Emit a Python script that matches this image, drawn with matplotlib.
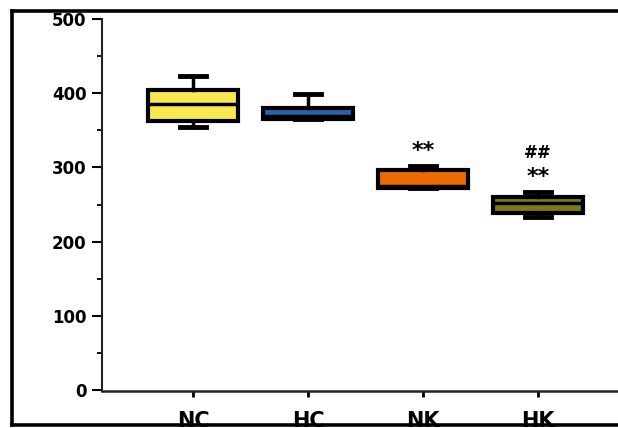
import matplotlib
matplotlib.use("Agg")
import matplotlib.pyplot as plt
from matplotlib.lines import Line2D

categories = ["NC", "HC", "NK", "HK"]
whislo = [355, 365, 272, 233]
q1 = [362, 366, 273, 239]
med = [386, 370, 275, 252]
q3 = [405, 380, 297, 260]
whishi = [423, 399, 302, 267]
colors = ["#FAE84F", "#2A63AC", "#EC6A00", "#7C7A18"]
annotations = [("NK", "**", 0), ("HK", "**", 0), ("HK", "##", 1)]

plt.rcParams['font.family'] = ['DejaVu Sans']
plt.rcParams['font.weight'] = 'bold'

fig = plt.figure(figsize=(6.18, 4.28), dpi=100)
ax = fig.add_axes([0.165, 0.0853, 0.835, 0.870])

stats = []
for i, c in enumerate(categories):
    stats.append(dict(label=c, whislo=whislo[i], q1=q1[i], med=med[i],
                      q3=q3[i], whishi=whishi[i], fliers=[]))
positions = list(range(1, len(categories) + 1))
bp = ax.bxp(stats, positions=positions, widths=0.78, capwidths=0.22,
            showfliers=False, patch_artist=True,
            boxprops=dict(linewidth=3, edgecolor="black"),
            medianprops=dict(color="black", linewidth=2.5),
            whiskerprops=dict(color="black", linewidth=2.5),
            capprops=dict(color="black", linewidth=3.5))
for patch, col in zip(bp["boxes"], colors):
    patch.set_facecolor(col)

# significance marks
for cat, txt, level in annotations:
    i = categories.index(cat)
    y = whishi[i] + 20 + level * 33
    ax.text(positions[i], y, txt, ha="center", va="center",
            fontsize=16 if txt == "**" else 12, fontweight="bold")

ax.set_xlim(0.209, 4.696)
ax.set_ylim(-2, 500)
ax.set_yticks([0, 100, 200, 300, 400, 500])
ax.set_yticks([50, 150, 250, 350, 450], minor=True)
ax.set_xticks(positions)
ax.set_xticklabels(categories)
for s in ["top", "right"]:
    ax.spines[s].set_visible(False)
ax.spines["left"].set_linewidth(1.5)
ax.spines["bottom"].set_linewidth(1.8)
ax.spines["left"].set_color("#222222")
ax.spines["bottom"].set_color("#222222")
ax.tick_params(axis="y", which="major", length=7, width=1.5, pad=4,
               labelsize=12)
ax.tick_params(axis="y", which="minor", length=3.5, width=1.3)
ax.tick_params(axis="x", which="major", length=4, width=2, pad=10,
               labelsize=15)
for lab in ax.get_xticklabels() + ax.get_yticklabels():
    lab.set_fontweight("bold")

# outer frame (left, top, bottom)
W, H = 618.0, 428.0
lw = 2.6
fig.add_artist(Line2D([12 / W, 12 / W], [1 - 11 / H, 1 - 425 / H],
                      transform=fig.transFigure, color="black", lw=lw, zorder=10))
fig.add_artist(Line2D([12 / W, 1.0], [1 - 11 / H, 1 - 11 / H],
                      transform=fig.transFigure, color="black", lw=lw, zorder=10))
fig.add_artist(Line2D([12 / W, 1.0], [1 - 425 / H, 1 - 425 / H],
                      transform=fig.transFigure, color="black", lw=lw, zorder=10))

fig.savefig("out.png", dpi=100)
